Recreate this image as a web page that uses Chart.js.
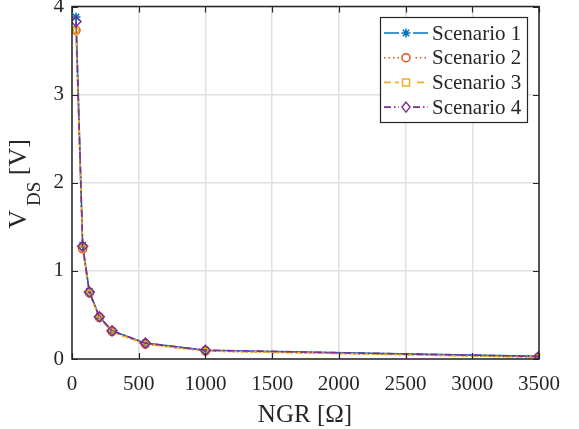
<!DOCTYPE html>
<html>
<head>
<meta charset="utf-8">
<script src="https://cdn.jsdelivr.net/npm/chart.js@4.4.1/dist/chart.umd.min.js"></script>
<style>
  html, body { margin: 0; padding: 0; background: #fff; }
  #wrap { width: 579px; height: 429px; position: relative; }
</style>
</head>
<body>
<div id="wrap"><canvas id="grafico"></canvas></div>
<script>
// dados
const NGR = [30, 80, 130, 205, 300, 550, 1000, 3500];
const CENARIO_1 = [3.88, 1.29, 0.77, 0.48, 0.32, 0.18, 0.10, 0.03];
const CENARIO_2 = [3.73, 1.25, 0.75, 0.47, 0.31, 0.17, 0.09, 0.02];
const CENARIO_3 = [3.73, 1.26, 0.75, 0.47, 0.31, 0.17, 0.09, 0.02];
const CENARIO_4 = [3.83, 1.28, 0.76, 0.48, 0.32, 0.18, 0.10, 0.03];
const LEGENDAS = ['Scenario 1', 'Scenario 2', 'Scenario 3', 'Scenario 4'];
const X_TICKS = [0, 500, 1000, 1500, 2000, 2500, 3000, 3500];
const Y_TICKS = [0, 1, 2, 3, 4];

const FONTE = '"Liberation Serif", "Times New Roman", serif';
const TEXTO = '#262626';

function pontos(vals) {
    return NGR.map(function(x, i) { return { x: x, y: vals[i] }; });
}

const ESTILOS = [
    { cor: '#0072BD', dash: [], ponto: 'star', raio: 4.5 },
    { cor: '#D95319', dash: [1.5, 3], ponto: 'circle', raio: 4 },
    { cor: '#EDB120', dash: [7, 4], ponto: 'rect', raio: 3.5 },
    { cor: '#7E2F8E', dash: [7, 3, 1.5, 3], ponto: 'rectRot', raio: 5 }
];

const series = [CENARIO_1, CENARIO_2, CENARIO_3, CENARIO_4];

var datasets = series.map(function(vals, i) {
    var e = ESTILOS[i];
    return {
        label: LEGENDAS[i],
        data: pontos(vals),
        borderColor: e.cor,
        backgroundColor: 'rgba(0,0,0,0)',
        borderWidth: 1.6,
        borderDash: e.dash,
        pointStyle: e.ponto,
        pointRadius: e.raio,
        pointBorderWidth: 1.5,
        pointBorderColor: e.cor,
        pointBackgroundColor: 'rgba(0,0,0,0)',
        tension: 0,
        fill: false,
        order: 4 - i
    };
});

// marcador da legenda (desenho simples)
function marcador(ctx, tipo, x, y, r) {
    ctx.beginPath();
    if (tipo === 'circle') {
        ctx.arc(x, y, r, 0, Math.PI * 2);
    } else if (tipo === 'rect') {
        ctx.rect(x - r, y - r, 2 * r, 2 * r);
    } else if (tipo === 'rectRot') {
        ctx.moveTo(x, y - r); ctx.lineTo(x + r * 0.8, y);
        ctx.lineTo(x, y + r); ctx.lineTo(x - r * 0.8, y); ctx.closePath();
    } else if (tipo === 'star') {
        for (var k = 0; k < 4; k++) {
            var ang = k * Math.PI / 4;
            ctx.moveTo(x - r * Math.cos(ang), y - r * Math.sin(ang));
            ctx.lineTo(x + r * Math.cos(ang), y + r * Math.sin(ang));
        }
    }
    ctx.stroke();
}

// caixa, ticks internos, titulos e legenda estilo matlab
const extras = {
    id: 'extras',
    afterDraw: function(chart) {
        var ctx = chart.ctx;
        var a = chart.chartArea;
        var sx = chart.scales.x, sy = chart.scales.y;
        ctx.save();

        // ticks para dentro
        ctx.strokeStyle = TEXTO;
        ctx.lineWidth = 1.2;
        ctx.setLineDash([]);
        X_TICKS.forEach(function(t) {
            var px = Math.round(sx.getPixelForValue(t)) + 0.5;
            ctx.beginPath();
            ctx.moveTo(px, a.bottom); ctx.lineTo(px, a.bottom - 6);
            ctx.moveTo(px, a.top); ctx.lineTo(px, a.top + 6);
            ctx.stroke();
        });
        Y_TICKS.forEach(function(t) {
            var py = Math.round(sy.getPixelForValue(t)) + 0.5;
            ctx.beginPath();
            ctx.moveTo(a.left, py); ctx.lineTo(a.left + 6, py);
            ctx.moveTo(a.right, py); ctx.lineTo(a.right - 6, py);
            ctx.stroke();
        });

        // caixa
        ctx.lineWidth = 1.5;
        ctx.strokeRect(a.left, a.top, a.right - a.left, a.bottom - a.top);

        // titulo x
        ctx.fillStyle = TEXTO;
        ctx.font = '25px ' + FONTE;
        ctx.textAlign = 'center';
        ctx.textBaseline = 'alphabetic';
        ctx.fillText('NGR [\u03A9]', 305, 422);

        // titulo y com subscrito
        ctx.save();
        ctx.translate(26, 184);
        ctx.rotate(-Math.PI / 2);
        ctx.font = '26px ' + FONTE;
        var wV = ctx.measureText('V').width;
        ctx.font = '19px ' + FONTE;
        var wDS = ctx.measureText('DS').width;
        ctx.font = '26px ' + FONTE;
        var wR = ctx.measureText(' [V]').width;
        var total = wV + 4 + wDS + wR;
        var x0 = -total / 2;
        ctx.textAlign = 'left';
        ctx.fillText('V', x0, 0);
        ctx.font = '19px ' + FONTE;
        ctx.fillText('DS', x0 + wV + 4, 14);
        ctx.font = '26px ' + FONTE;
        ctx.fillText(' [V]', x0 + wV + 4 + wDS, 0);
        ctx.restore();

        // legenda
        var bx = 380, by = 17, bw = 147, bh = 105;
        ctx.fillStyle = '#fff';
        ctx.fillRect(bx, by, bw, bh);
        ctx.strokeStyle = TEXTO;
        ctx.lineWidth = 1.2;
        ctx.strokeRect(bx + 0.5, by + 0.5, bw, bh);
        LEGENDAS.forEach(function(nome, i) {
            var e = ESTILOS[i];
            var yy = 33 + i * 24.7;
            ctx.strokeStyle = e.cor;
            ctx.lineWidth = 1.6;
            ctx.setLineDash(e.dash);
            ctx.beginPath();
            ctx.moveTo(384, yy); ctx.lineTo(428, yy);
            ctx.stroke();
            ctx.setLineDash([]);
            ctx.fillStyle = '#fff';
            ctx.fillRect(399, yy - 6, 14, 12);
            ctx.strokeStyle = e.cor;
            ctx.lineWidth = 1.5;
            marcador(ctx, e.ponto, 406, yy, e.raio);
            ctx.fillStyle = TEXTO;
            ctx.font = '21px ' + FONTE;
            ctx.textAlign = 'left';
            ctx.textBaseline = 'middle';
            ctx.fillText(nome, 432, yy + 1);
        });
        ctx.restore();
    }
};

new Chart(document.getElementById('grafico'), {
    type: 'line',
    data: { datasets: datasets },
    plugins: [extras],
    options: {
        responsive: true,
        maintainAspectRatio: false,
        animation: false,
        layout: { padding: { top: 5, right: 40, left: 0, bottom: 0 } },
        plugins: {
            legend: { display: false },
            tooltip: { enabled: false }
        },
        scales: {
            x: {
                type: 'linear',
                min: 0, max: 3500,
                afterFit: function(s) { s.height = 70; },
                afterBuildTicks: function(s) {
                    s.ticks = X_TICKS.map(function(v) { return { value: v }; });
                },
                grid: { color: '#e0e0e0', lineWidth: 1.5, drawTicks: false },
                border: { display: false },
                ticks: { color: TEXTO, padding: 13, maxRotation: 0,
                         callback: function(v) { return String(v); },
                         font: { family: FONTE, size: 21 } }
            },
            y: {
                min: 0, max: 4,
                afterFit: function(s) {
                    s.width = 72;
                    s.paddingTop = 0;
                    s.paddingBottom = 0;
                },
                afterBuildTicks: function(s) {
                    s.ticks = Y_TICKS.map(function(v) { return { value: v }; });
                },
                grid: { color: '#e0e0e0', lineWidth: 1.5, drawTicks: false },
                border: { display: false },
                ticks: { color: TEXTO, padding: 8,
                         callback: function(v) { return String(v); },
                         font: { family: FONTE, size: 21 } }
            }
        }
    }
});
</script>
</body>
</html>
